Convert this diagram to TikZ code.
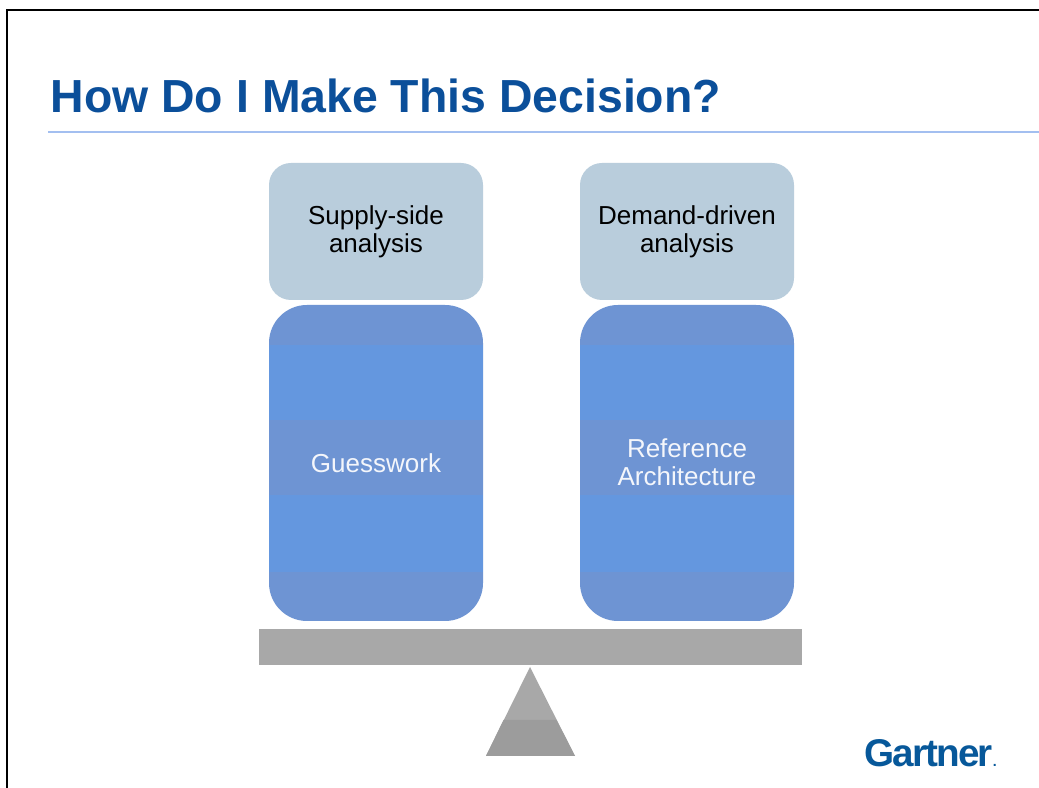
\documentclass[tikz,border=0pt]{standalone}
\usepackage{fontspec}
\setmainfont{Liberation Sans}
\usetikzlibrary{positioning}
\definecolor{TitleBlue}{HTML}{0B4F9A}
\definecolor{RuleBlue}{HTML}{A3BFF0}
\definecolor{PaleBlue}{HTML}{B9CDDC}
\definecolor{BandDark}{HTML}{6E94D3}
\definecolor{BandLight}{HTML}{6497DF}
\definecolor{BeamGrey}{HTML}{A8A8A8}
\definecolor{FootGrey}{HTML}{9C9C9C}
\definecolor{LogoBlue}{HTML}{07589A}
\tikzset{
  topbox/.style={fill=PaleBlue, rounded corners=0.22cm, minimum width=2.14cm, minimum height=1.37cm, align=center, text=black, font=\fontsize{7.4}{8}\selectfont},
  blocklabel/.style={align=center, text=white!92!BandDark, font=\fontsize{7.4}{8}\selectfont}
}
\begin{document}
\begin{tikzpicture}
    \useasboundingbox (0,0) rectangle (10.39,7.88);
    \fill[white] (0,0) rectangle (10.39,7.88);
    % Slide border
    \draw[black, line width=0.55pt] (0.07,0) -- (0.07,7.78) -- (10.39,7.78);
    % Title
    \node[anchor=base west, inner sep=0pt, text=TitleBlue, font=\fontsize{13.2}{16}\selectfont\bfseries] (title) at (0.5,6.75) {How Do I Make This Decision?};
    \draw[RuleBlue, line width=0.4pt] (0.48,6.56) -- (10.39,6.56);
    % Stacked blocks
    \foreach \x in {2.69,5.80} {
        \fill[BandDark, rounded corners=0.38cm] (\x,1.67) -- ++(0,3.16) -- ++(2.14,0) -- ++(0,-3.16) -- cycle;
        \fill[BandLight] (\x,3.68) rectangle ++(2.14,0.75);
        \fill[BandLight] (\x,2.16) rectangle ++(2.14,0.77);
    }
    \node[topbox] (supply) at (3.76,5.565) {Supply-side\\analysis};
    \node[topbox] (demand) at (6.87,5.565) {Demand-driven\\analysis};
    \node[blocklabel] (guesswork) at (3.76,3.25) {Guesswork};
    \node[blocklabel] (reference) at (6.87,3.26) {Reference\\Architecture};
    % Balance
    \fill[BeamGrey] (2.59,1.23) rectangle (8.02,1.59);
    \fill[BeamGrey] (5.30,1.21) -- (5.75,0.32) -- (4.86,0.32) -- cycle;
    \fill[FootGrey] (5.035,0.68) -- (5.565,0.68) -- (5.75,0.32) -- (4.86,0.32) -- cycle;
    % Logo
    \node[anchor=base west, inner sep=0pt, text=LogoBlue, font=\fontsize{11}{12}\selectfont\bfseries\addfontfeature{LetterSpace=-5}] (logo) at (8.64,0.21) {Gartner{\fontsize{4}{4}\selectfont.}};
\end{tikzpicture}
\end{document}
